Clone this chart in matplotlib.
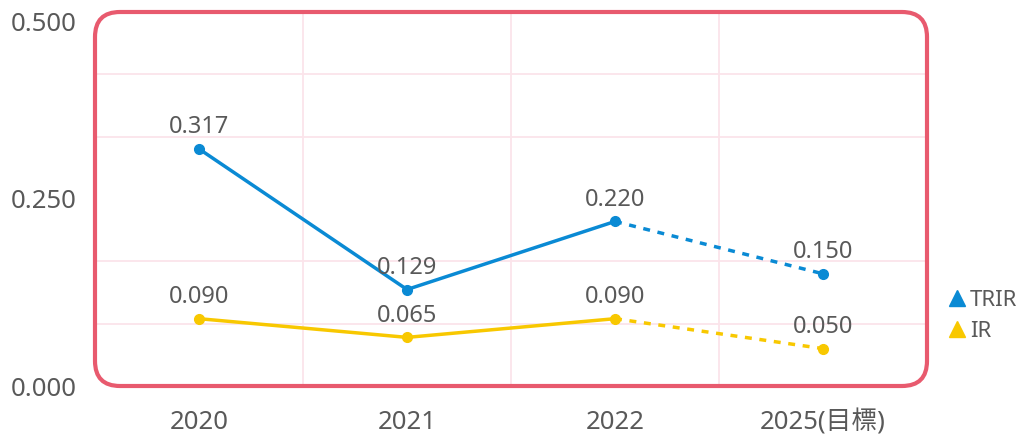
import matplotlib.pyplot as plt
import numpy as np
from matplotlib.patches import FancyBboxPatch
from matplotlib.lines import Line2D

plt.rcParams["font.family"] = ["Noto Sans", "Noto Sans CJK TC"]

years = ["2020", "2021", "2022", "2025(目標)"]
trir = [0.317, 0.129, 0.220, 0.150]
ir = [0.090, 0.065, 0.090, 0.050]
yticks = [0.0, 0.25, 0.5]

blue = "#0A8AD4"
yellow = "#F8C800"
text_gray = "#595959"
border_red = "#E85A6E"
grid_pink = "#FBE4EA"

fig = plt.figure(figsize=(10.25, 4.37), dpi=100)
ax = fig.add_axes([95 / 1025, 51 / 437, 832 / 1025, 374 / 437])

x = np.arange(len(years))
for vals, color in [(trir, blue), (ir, yellow)]:
    # actual years solid, target year dashed
    ax.plot(x[:3], vals[:3], color=color, lw=2.5, zorder=3)
    ax.plot(x[2:], vals[2:], color=color, lw=2.5, ls=(0, (2, 2.2)), zorder=3)
    ax.plot(x, vals, "o", color=color, ms=7, zorder=4)
    for xi, v in zip(x, vals):
        ax.annotate(f"{v:.3f}", (xi, v), xytext=(0, 7), textcoords="offset points",
                    ha="center", va="bottom", fontsize=17, color=text_gray)

ax.set_xlim(-0.5, 3.5)
ax.set_ylim(0, 0.5)
ax.set_xticks(x)
ax.set_xticklabels(years)
ax.set_yticks(yticks)
ax.set_yticklabels([f"{t:.3f}" for t in yticks])
ax.get_yticklabels()[-1].set_va("top")
ax.set_xticks([0.5, 1.5, 2.5], minor=True)
ax.set_yticks(np.arange(1, 6) * 0.5 / 6, minor=True)
ax.tick_params(which="both", length=0, labelsize=18.5, colors=text_gray)
ax.tick_params(axis="y", pad=13)
ax.tick_params(axis="x", pad=17)
ax.grid(which="both", color=grid_pink, lw=1.3)
ax.grid(which="major", axis="x", visible=False)
ax.grid(which="major", axis="y", visible=False)
for s in ax.spines.values():
    s.set_visible(False)

# rounded frame around the plot area
w_px, h_px = 832, 374
r = 25 / w_px
frame = FancyBboxPatch((0, 0), 1, 1, boxstyle=f"round,pad=0,rounding_size={r}",
                       mutation_aspect=w_px / h_px, transform=ax.transAxes,
                       fill=False, ec=border_red, lw=3, clip_on=False, zorder=5)
ax.add_patch(frame)

handles = [Line2D([], [], marker="^", ls="none", color=blue, ms=12),
           Line2D([], [], marker="^", ls="none", color=yellow, ms=12)]
fig.legend(handles, ["TRIR", "IR"], loc="center left", bbox_to_anchor=(0.914, 0.278),
           frameon=False, fontsize=16, labelcolor=text_gray, handlelength=0.8,
           handletextpad=0.2, labelspacing=0.45, borderpad=0)

fig.savefig("out.png", dpi=100)
